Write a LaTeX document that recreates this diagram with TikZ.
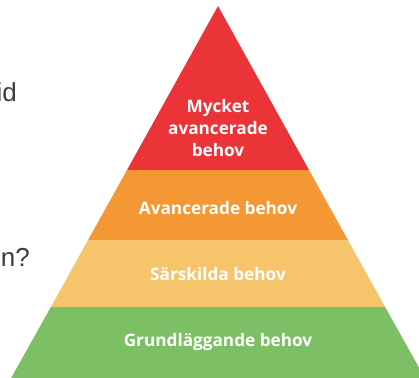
\documentclass[tikz,border=0pt]{standalone}
\usepackage{fontspec}
\newfontfamily\pyrfont{Open Sans}
\newfontfamily\sidefont{Liberation Sans}
\definecolor{toplayer}{RGB}{234,52,56}
\definecolor{advlayer}{RGB}{243,152,53}
\definecolor{speclayer}{RGB}{246,196,107}
\definecolor{baselayer}{RGB}{124,191,101}
\definecolor{sidegray}{RGB}{60,60,60}
\usetikzlibrary{positioning}

\begin{document}
\begin{tikzpicture}[x=1pt,y=-1pt,
    lbl/.style={text=white,font=\pyrfont\bfseries\fontsize{17.2}{22}\selectfont,align=center,inner sep=0pt},
    side/.style={text=sidegray,font=\sidefont\fontsize{26}{30}\selectfont,inner sep=0pt,anchor=base east}]
  \useasboundingbox (0,0) rectangle (419,377);

  % layers, top to bottom
  \fill[toplayer]  (218,6) -- (309,170) -- (127,170) -- cycle;
  \fill[advlayer]  (127,170) -- (309,170) -- (347.9,240) -- (88.1,240) -- cycle;
  \fill[speclayer] (88.1,240) -- (347.9,240) -- (385.1,307) -- (50.9,307) -- cycle;
  \fill[baselayer] (50.9,307) -- (385.1,307) -- (426,380) -- (10,380) -- cycle;

  \node[lbl] (mycket) at (218,128) {Mycket\\avancerade\\behov};
  \node[lbl] (avanc) at (218,208) {Avancerade behov};
  \node[lbl] (sarsk) at (218,274) {Särskilda behov};
  \node[lbl] (grund) at (218,342) {Grundläggande behov};

  % cut-off text on the left
  \node[side] (tid) at (17,101) {id};
  \node[side] (fraga) at (30,266) {en?};
\end{tikzpicture}
\end{document}
